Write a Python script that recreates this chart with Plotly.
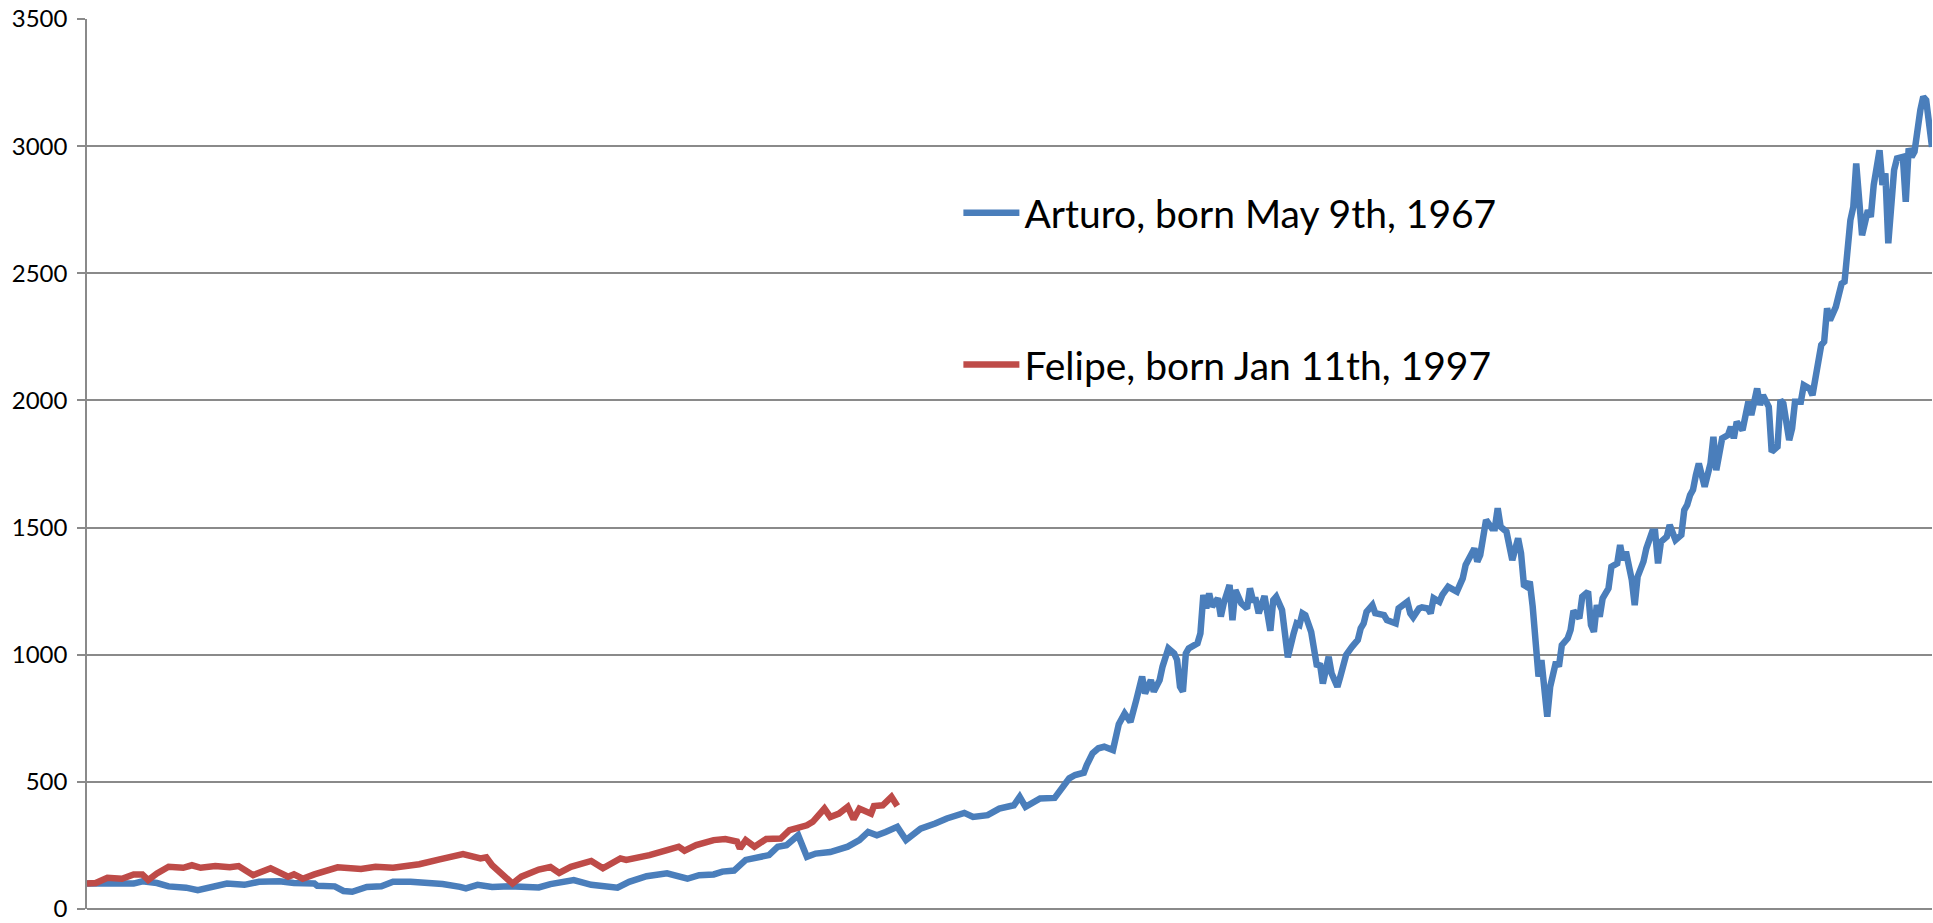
import plotly.graph_objects as go

# age in months since birth, and portfolio value (start = 100)
arturo_month = [
    0, 6, 10, 16, 19, 24, 28, 34, 38, 42, 48, 54, 59, 66, 71, 78, 79, 85, 88, 91,
    96, 101, 105, 111, 117, 122, 128, 130, 134, 139, 145, 151, 155, 159, 163, 167, 173, 178, 182, 186,
    192, 199, 203, 206, 210, 215, 218, 222, 226, 231, 234, 237, 240, 244, 247, 250, 255, 261, 265, 268,
    271, 274, 278, 281, 286, 291, 295, 301, 304, 309, 313, 318, 320, 322, 327, 332, 334, 337, 339, 342,
    343, 345, 347, 349, 352, 353, 354, 356, 358, 360, 362, 363, 365, 366, 368, 369, 371, 373, 374, 375,
    376, 377, 378, 381, 382, 383, 384, 385, 386, 388, 389, 390, 392, 393, 394, 396, 398, 399, 400, 401,
    402, 404, 406, 407, 408, 410, 412, 414, 415, 416, 417, 418, 420, 422, 423, 424, 426, 427, 429, 430,
    432, 434, 436, 437, 438, 439, 441, 442, 445, 446, 449, 450, 452, 453, 454, 455, 457, 458, 460, 461,
    462, 464, 465, 467, 470, 472, 473, 476, 477, 478, 480, 482, 483, 484, 485, 487, 489, 491, 492, 493,
    494, 495, 496, 497, 498, 499, 501, 502, 504, 505, 506, 508, 509, 510, 512, 513, 515, 516, 517, 518,
    519, 520, 522, 523, 525, 526, 527, 528, 530, 531, 532, 534, 535, 537, 538, 539, 540, 542, 543, 545,
    547, 548, 549, 550, 551, 552, 553, 555, 557, 558, 559, 561, 563, 564, 565, 566, 568, 570, 571, 573,
    574, 575, 577, 578, 580, 581, 582, 584, 585, 586, 588, 589, 591, 592, 594, 595, 596, 597, 598, 600,
    601, 602, 603, 604, 605, 606, 607, 609, 611, 612, 613, 615, 616, 617, 618, 620, 621, 623, 624, 625,
    626, 627, 628, 629, 630, 631, 633,
]
arturo_value = [
    100, 100, 95, 100, 109, 102, 89, 84, 74, 84, 100, 95, 107, 109, 102, 100, 91, 89, 71, 68,
    87, 89, 107, 107, 105, 98, 87, 81, 95, 87, 89, 87, 85, 98, 107, 114, 95, 91, 84, 107,
    129, 140, 127, 119, 133, 136, 147, 151, 193, 208, 212, 245, 251, 290, 205, 218, 224, 245, 271, 303,
    290, 303, 323, 271, 316, 336, 356, 378, 362, 369, 395, 408, 441, 402, 435, 437, 468, 514, 527, 536,
    566, 612, 632, 638, 625, 671, 727, 769, 736, 822, 914, 848, 900, 855, 900, 953, 1025, 1005, 979, 874,
    855, 1005, 1025, 1045, 1084, 1235, 1182, 1241, 1189, 1222, 1150, 1202, 1274, 1136, 1254, 1202, 1182, 1261, 1215, 1215,
    1163, 1231, 1094, 1215, 1228, 1176, 990, 1084, 1123, 1117, 1163, 1156, 1090, 953, 966, 887, 992, 927, 874, 914,
    999, 1031, 1058, 1104, 1123, 1169, 1195, 1163, 1156, 1136, 1123, 1182, 1195, 1208, 1163, 1147, 1182, 1186, 1182, 1163,
    1222, 1208, 1235, 1267, 1248, 1300, 1353, 1418, 1366, 1392, 1530, 1497, 1497, 1576, 1503, 1484, 1372, 1458, 1399, 1274,
    1267, 1287, 1189, 1005, 914, 979, 756, 874, 972, 953, 1038, 1064, 1097, 1173, 1143, 1228, 1248, 1117, 1090, 1195,
    1149, 1222, 1261, 1346, 1359, 1431, 1372, 1405, 1294, 1195, 1307, 1366, 1418, 1484, 1484, 1359, 1444, 1464, 1510, 1451,
    1471, 1569, 1589, 1628, 1648, 1707, 1752, 1661, 1752, 1857, 1726, 1851, 1864, 1896, 1851, 1916, 1883, 1995, 1942, 2047,
    1982, 2021, 1975, 1798, 1818, 2001, 1988, 1844, 1890, 1995, 1995, 2060, 2047, 2021, 2159, 2218, 2231, 2362, 2316, 2368,
    2414, 2460, 2467, 2591, 2709, 2761, 2932, 2650, 2748, 2722, 2847, 2984, 2847, 2893, 2618, 2906, 2952, 2958, 2781, 2991,
    2958, 2978, 3070, 3142, 3194, 3181, 2997,
]

felipe_month = [
    0, 3, 7, 12, 16, 19, 21, 24, 28, 33, 36, 39, 44, 49, 52, 57, 63, 69, 71, 74,
    78, 82, 86, 94, 99, 105, 114, 121, 125, 129, 135, 137, 139, 143, 146, 149, 153, 155, 159, 162,
    166, 173, 177, 183, 185, 190, 193, 199, 203, 205, 209, 215, 219, 223, 224, 226, 229, 233, 238, 241,
    247, 249, 253, 255, 258, 261, 263, 265, 269, 270, 273, 276, 278,
]
felipe_value = [
    100, 102, 123, 119, 136, 136, 114, 140, 166, 162, 172, 162, 169, 164, 169, 133, 160, 127, 136, 119,
    136, 148, 164, 157, 166, 162, 176, 195, 208, 216, 199, 203, 172, 133, 100, 127, 144, 155, 165, 142,
    166, 189, 160, 199, 193, 203, 212, 232, 245, 229, 251, 271, 275, 265, 238, 271, 245, 275, 277, 310,
    329, 343, 395, 362, 375, 402, 353, 395, 375, 405, 408, 441, 405,
]

y_ticks = [0, 500, 1000, 1500, 2000, 2500, 3000, 3500]

BLUE = "#4A7EBB"
RED = "#BE4B48"
GRID = "#8A8A8A"

fig = go.Figure()
fig.add_trace(go.Scatter(x=arturo_month, y=arturo_value, mode="lines",
                         name="Arturo, born May 9th, 1967", legendgroup="a",
                         line=dict(color=BLUE, width=6.5)))
fig.add_trace(go.Scatter(x=felipe_month, y=felipe_value, mode="lines",
                         name="Felipe, born Jan 11th, 1997", legendgroup="f",
                         line=dict(color=RED, width=6.5)))

fig.update_layout(
    width=1933, height=923,
    margin=dict(l=87, r=1, t=19, b=14, autoexpand=False),
    paper_bgcolor="white", plot_bgcolor="white",
    font=dict(family="Lato, 'Open Sans', sans-serif", color="black"),
    showlegend=True,
    legend=dict(
        x=0.4723, y=0.818, xanchor="left", yanchor="top",
        font=dict(size=39, color="black"),
        bgcolor="rgba(0,0,0,0)", borderwidth=0,
        traceorder="grouped", tracegroupgap=98, itemwidth=56,
    ),
)
fig.update_xaxes(
    range=[0, 633], showgrid=False, zeroline=False,
    showticklabels=False, ticks="", showline=False,
)
fig.update_yaxes(
    range=[0, 3500], tickvals=y_ticks,
    showgrid=True, gridcolor=GRID, gridwidth=1.5,
    zeroline=True, zerolinecolor=GRID, zerolinewidth=1.5,
    showline=True, linecolor=GRID, linewidth=1.5,
    ticks="outside", ticklen=8, tickcolor=GRID, tickwidth=1.5,
    tickfont=dict(size=24, color="black"), ticklabelstandoff=5,
    ticklabeloverflow="allow",
)

# drop the default 8px body margin so the figure fills the window exactly
fig.write_html("out.html", config={"displayModeBar": False},
               post_script="document.body.style.margin = '0';")
